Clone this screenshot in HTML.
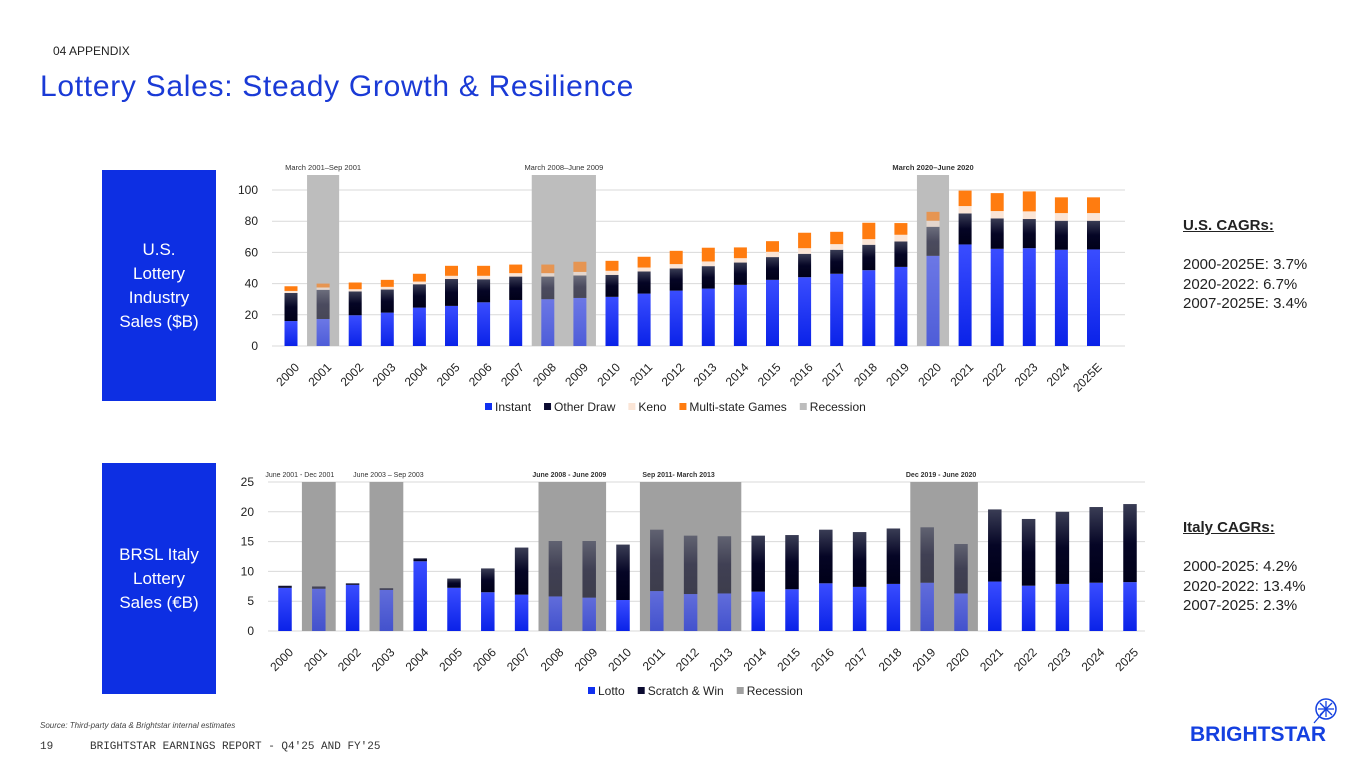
<!DOCTYPE html>
<html><head><meta charset="utf-8">
<style>
body{margin:0;width:1365px;height:768px;background:#fff;font-family:"Liberation Sans",sans-serif;position:relative;overflow:hidden}
.abs{position:absolute}
.box{position:absolute;left:102px;width:114px;height:231px;background:#0d2fe3;color:#fff;font-size:17px;line-height:24px;display:flex;align-items:center;justify-content:center;text-align:center}
.cagr{position:absolute;left:1183px;font-size:15px;line-height:19.5px;color:#222}
.cagr b{text-decoration:underline;font-weight:bold}
</style></head><body>
<div class="abs" style="left:53px;top:44px;font-size:12px;color:#222">04 APPENDIX</div>
<div class="abs" style="left:40px;top:70px;font-size:30px;letter-spacing:0.7px;color:#1a3ad6">Lottery Sales: Steady Growth &amp; Resilience</div>
<div class="box" style="top:170px">U.S.<br>Lottery<br>Industry<br>Sales ($B)</div>
<div class="box" style="top:463px">BRSL Italy<br>Lottery<br>Sales (€B)</div>
<div class="cagr" style="top:216px"><b>U.S. CAGRs:</b><br><br>2000-2025E: 3.7%<br>2020-2022: 6.7%<br>2007-2025E: 3.4%</div>
<div class="cagr" style="top:518px"><b>Italy CAGRs:</b><br><br>2000-2025: 4.2%<br>2020-2022: 13.4%<br>2007-2025: 2.3%</div>
<div class="abs" style="left:40px;top:721px;font-size:8px;font-style:italic;color:#444">Source: Third-party data &amp; Brightstar internal estimates</div>
<div class="abs" style="left:40px;top:741px;font-size:11px;font-family:'Liberation Mono',monospace;color:#333">19</div>
<div class="abs" style="left:90px;top:741px;font-size:11px;font-family:'Liberation Mono',monospace;color:#333">BRIGHTSTAR EARNINGS REPORT - Q4'25 AND FY'25</div>
<div class="abs" style="left:1190px;top:723px;font-size:21px;font-weight:bold;color:#1440e0;letter-spacing:0px">BRIGHTSTAR</div>
<svg class="abs" style="left:1312px;top:697px" width="28" height="28"><circle cx="14" cy="12" r="10" fill="none" stroke="#1440e0" stroke-width="1.5"/><g stroke="#1440e0" stroke-width="1.3"><line x1="14" y1="4" x2="14" y2="20"/><line x1="6" y1="12" x2="22" y2="12"/><line x1="8" y1="6" x2="20" y2="18"/><line x1="20" y1="6" x2="8" y2="18"/><line x1="14" y1="12" x2="2" y2="26"/></g></svg>
<svg id="top" class="abs" style="left:0;top:0" width="1365" height="768">
<defs>
<linearGradient id="gBlue" x1="0" y1="0" x2="0" y2="1"><stop offset="0" stop-color="#3a4dff"/><stop offset="1" stop-color="#0a22e8"/></linearGradient>
<linearGradient id="gNavy" x1="0" y1="0" x2="0" y2="1"><stop offset="0" stop-color="#3a3d55"/><stop offset="0.5" stop-color="#050525"/><stop offset="1" stop-color="#000018"/></linearGradient>
</defs>
</svg>
<script>
const usYears=["2000","2001","2002","2003","2004","2005","2006","2007","2008","2009","2010","2011","2012","2013","2014","2015","2016","2017","2018","2019","2020","2021","2022","2023","2024","2025E"];
const usInstant=[16,17.3,19.7,21.4,24.6,25.7,28,29.5,30,30.8,31.5,33.6,35.5,36.8,39.2,42.4,44.1,46.3,48.6,50.7,57.8,65.1,62.3,62.7,61.7,61.9];
const usOther=[18,18.7,15.3,14.8,15,17.3,14.8,15,14.5,14.4,14.1,14.2,14.2,14.4,14.3,14.6,15,15.4,16.3,16.3,18.6,19.9,19.5,18.7,18.6,18.4];
const usKeno=[1.3,1.5,1.4,1.7,1.7,2,2.2,2.2,2.2,2.3,2.6,2.5,2.8,3,2.8,3.4,3.6,3.6,3.6,4.3,3.9,4.7,4.7,4.9,4.9,4.9];
const usMulti=[3,2.5,4.3,4.5,5,6.4,6.4,5.5,5.5,6.5,6.4,6.9,8.5,8.8,6.9,6.8,9.9,7.9,10.5,7.5,5.7,9.9,11.5,12.8,10.1,10.1];
const usTicks=[0,20,40,60,80,100];
const usRecStart=["2001","2008","2020"], usRecEnd=["2001","2009","2020"];
const usRecLabels=["March 2001\u2013Sep 2001","March 2008\u2013June 2009","March 2020\u2013June 2020"];
const itYears=["2000","2001","2002","2003","2004","2005","2006","2007","2008","2009","2010","2011","2012","2013","2014","2015","2016","2017","2018","2019","2020","2021","2022","2023","2024","2025"];
const itLotto=[7.25,7.1,7.75,6.9,11.7,7.25,6.5,6.1,5.8,5.6,5.2,6.7,6.2,6.3,6.6,7.0,8.0,7.4,7.9,8.1,6.3,8.3,7.6,7.9,8.1,8.2];
const itScratch=[0.35,0.4,0.25,0.3,0.5,1.55,4.0,7.9,9.3,9.5,9.3,10.3,9.8,9.6,9.4,9.1,9.0,9.2,9.3,9.3,8.3,12.1,11.2,12.1,12.7,13.1];
const itTicks=[0,5,10,15,20,25];
const itRecStart=["2001","2003","2008","2011","2019"], itRecEnd=["2001","2003","2009","2013","2020"];
const itRecLabels=["June 2001 - Dec 2001","June 2003 \u2013 Sep 2003","June 2008 - June 2009","Sep 2011- March 2013","Dec 2019 - June 2020"];

const svg=document.getElementById('top');
const NS='http://www.w3.org/2000/svg';
function mk(tag,attrs,parent){const e=document.createElementNS(NS,tag);for(const k in attrs)e.setAttribute(k,attrs[k]);(parent||svg).appendChild(e);return e;}

function drawChart(cfg){
  const g=mk('g',{});
  
  
  const n=cfg.cats.length;
  const xc=i=>cfg.x0+i*cfg.step;
  const y=v=>cfg.y0-(v/cfg.vmax)*(cfg.y0-cfg.ytop);
  cfg.ticks.forEach(t=>{
    const l=mk('line',{x1:cfg.gx0,x2:cfg.gx1,y1:y(t),y2:y(t),stroke:'#d9d9d9','stroke-width':1},g);
    
    
    const tx=mk('text',{x:cfg.gx0-14,y:y(t)+4,'text-anchor':'end','font-size':12,fill:'#222'},g);
    tx.textContent=t;
    
    
  });
  const inRec=new Array(n).fill(false);
  cfg.recS.forEach((s,k)=>{
    const a=cfg.cats.indexOf(s),b=cfg.cats.indexOf(cfg.recE[k]);
    for(let i=a;i<=b;i++)inRec[i]=true;
    const x1=xc(a)-cfg.step/2,x2=xc(b)+cfg.step/2;
    const r=mk('rect',{x:x1,y:cfg.bandTop,width:x2-x1,height:cfg.y0-cfg.bandTop,fill:cfg.recColor},g);
    
    
    const t=mk('text',{x:(x1+x2)/2+cfg.recDx[k],y:cfg.bandTop-5,'text-anchor':'middle','font-size':cfg.recFs,fill:'#333','font-weight':cfg.recBold[k]?'bold':'normal'},g);
    t.textContent=cfg.recL[k];
    
    
  });
  cfg.cats.forEach((c,i)=>{
    let base=0;
    cfg.series.forEach(s=>{
      const v=s.vals[i];
      const r=mk('rect',{x:xc(i)-cfg.bw/2,y:y(base+v),width:cfg.bw,height:y(base)-y(base+v),fill:s.fill,opacity:inRec[i]?0.62:1},g);
      
      
      base+=v;
    });
    const t=mk('text',{x:0,y:0,'text-anchor':'end','font-size':12,fill:'#222',transform:`translate(${xc(i)+9},${cfg.y0+22}) rotate(-45)`},g);
    t.textContent=c;
    
    
  });
  let lx=cfg.legX;
  cfg.legend.forEach(l=>{
    const r=mk('rect',{x:lx,y:cfg.legY-8,width:7,height:7,fill:l.c},g);
    
    
    const t=mk('text',{x:lx+10,y:cfg.legY,'font-size':12,fill:'#222'},g);
    t.textContent=l.t;
    
    
    lx+=10+t.getComputedTextLength()+13;
  });
}
drawChart({name:'us-sales-chart',cats:usYears,x0:291,step:32.1,bw:13,y0:346,ytop:190,vmax:100,gx0:272,gx1:1125,bandTop:175,
  ticks:usTicks,recS:usRecStart,recE:usRecEnd,recL:usRecLabels,recBold:[0,0,1],recDx:[0,0,0],recFs:7.5,recColor:'#bdbdbd',
  series:[{key:'instant',vals:usInstant,fill:'url(#gBlue)'},{key:'other-draw',vals:usOther,fill:'url(#gNavy)'},{key:'keno',vals:usKeno,fill:'#fbe5d6'},{key:'multistate',vals:usMulti,fill:'#ff7c10'}],
  legX:485,legY:411,legend:[{t:'Instant',c:'#1030f0'},{t:'Other Draw',c:'#0a0a30'},{t:'Keno',c:'#fbe5d6'},{t:'Multi-state Games',c:'#ff7c10'},{t:'Recession',c:'#bdbdbd'}]});
drawChart({name:'italy-sales-chart',cats:itYears,x0:285,step:33.8,bw:13.5,y0:631,ytop:482,vmax:25,gx0:268,gx1:1145,bandTop:482,
  ticks:itTicks,recS:itRecStart,recE:itRecEnd,recL:itRecLabels,recBold:[0,0,1,1,1],recDx:[-19,2,-3,-12,-3],recFs:7,recColor:'#a0a0a0',
  series:[{key:'lotto',vals:itLotto,fill:'url(#gBlue)'},{key:'scratch-win',vals:itScratch,fill:'url(#gNavy)'}],
  legX:588,legY:695,legend:[{t:'Lotto',c:'#1030f0'},{t:'Scratch & Win',c:'#0a0a30'},{t:'Recession',c:'#a0a0a0'}]});
</script>
</body></html>
